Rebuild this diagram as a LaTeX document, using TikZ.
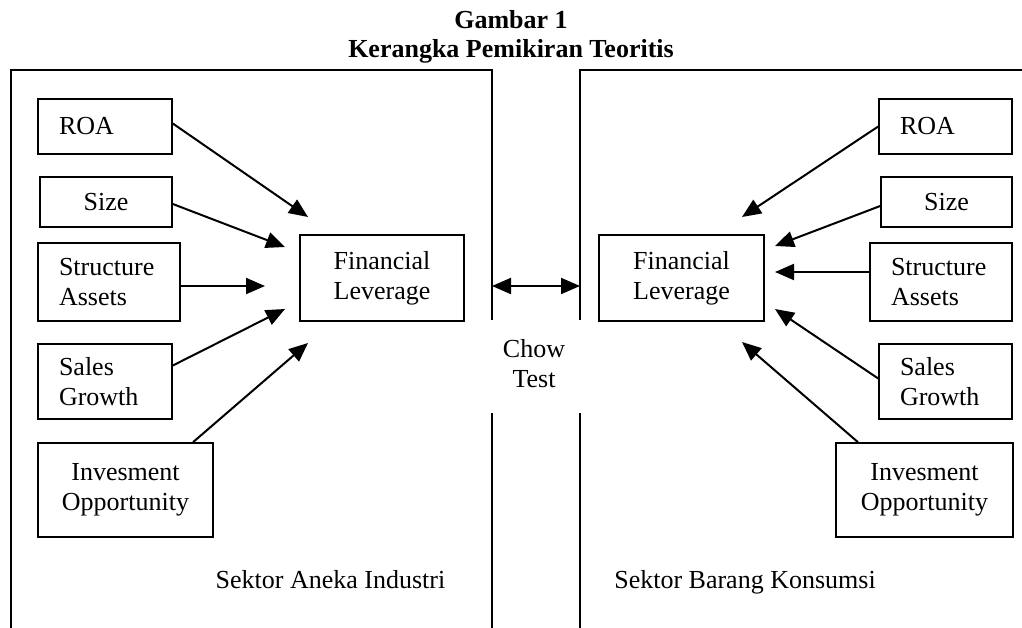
\documentclass[tikz,border=0pt]{standalone}
\usepackage{fontspec}
\setmainfont{Liberation Serif}
\usetikzlibrary{arrows.meta}
\begin{document}
\begin{tikzpicture}[x=1pt,y=-1pt,
  every node/.style={font=\fontsize{26}{30}\selectfont},
  bx/.style={draw, line width=1.6pt, inner ysep=0pt},
  lbox/.style={bx, inner xsep=21pt, align=left},
  cbox/.style={bx, inner xsep=4pt, align=center},
  frame/.style={line width=1.6pt},
  arr/.style={line width=2pt, -{Triangle[length=19pt,width=16pt]}},
  darr/.style={line width=2pt, {Triangle[length=19pt,width=16pt]}-{Triangle[length=19pt,width=16pt]}}]
\useasboundingbox (0,0) rectangle (1022,628);
% title
\node[font=\fontsize{26}{30}\selectfont\bfseries] (t1) at (511,20) {Gambar 1};
\node[font=\fontsize{26}{30}\selectfont\bfseries] (t2) at (511,51) {Kerangka Pemikiran Teoritis};
% frames
\draw[frame] (492,320) -- (492,70) -- (11,70) -- (11,628);
\draw[frame] (492,413) -- (492,628);
\draw[frame] (580,320) -- (580,70) -- (1024,70);
\draw[frame] (580,413) -- (580,628);
% left boxes
\node[lbox, text width=92pt, minimum height=55pt] (L1) at (105,126.5) {ROA};
\node[cbox, text width=124pt, minimum height=50pt] (L2) at (106,202) {Size};
\node[lbox, text width=100pt, minimum height=78pt] (L3) at (109,282) {Structure\\Assets};
\node[lbox, text width=92pt, minimum height=75pt] (L4) at (105,381.5) {Sales\\Growth};
\node[cbox, text width=167pt, minimum height=94pt] (L5) at (125.5,490) {Invesment\\Opportunity};
\node[cbox, text width=156pt, minimum height=86pt] (LF) at (382,278) {Financial\\Leverage};
% right boxes
\node[lbox, text width=91pt, minimum height=55pt] (R1) at (945.5,126.5) {ROA};
\node[cbox, text width=123pt, minimum height=50pt] (R2) at (946.5,202) {Size};
\node[lbox, text width=100pt, minimum height=78pt] (R3) at (941,282) {Structure\\Assets};
\node[lbox, text width=91pt, minimum height=75pt] (R4) at (945.5,381.5) {Sales\\Growth};
\node[cbox, text width=169pt, minimum height=94pt] (R5) at (924.5,490) {Invesment\\Opportunity};
\node[cbox, text width=157pt, minimum height=86pt] (RF) at (681.5,278) {Financial\\Leverage};
% labels
\node[align=center] (chow) at (534,364) {Chow\\Test};
\node[anchor=base] (secL) at (330.5,588) {Sektor Aneka Industri};
\node[anchor=base] (secR) at (745,588) {Sektor Barang Konsumsi};
% arrow tips
\coordinate (tL1) at (308,217);
\coordinate (tL2) at (285,247);
\coordinate (tL3) at (265,286);
\coordinate (tL4) at (285,309);
\coordinate (tL5) at (308,343);
\coordinate (tR1) at (742,217);
\coordinate (tR2) at (775,246);
\coordinate (tR3) at (775,272);
\coordinate (tR4) at (775,309);
\coordinate (tR5) at (742,342);
\coordinate (cA) at (492,286);
\coordinate (cB) at (580,286);
% arrows left
\draw[arr] ([yshift=3pt]L1.east) -- (tL1);
\draw[arr] ([yshift=-2pt]L2.east) -- (tL2);
\draw[arr] (L3.east |- tL3) -- (tL3);
\draw[arr] ([yshift=16pt]L4.east) -- (tL4);
\draw[arr] ([xshift=67.5pt]L5.north) -- (tL5);
% arrows right
\draw[arr] (R1.west) -- (tR1);
\draw[arr] ([yshift=-4pt]R2.west) -- (tR2);
\draw[arr] (R3.west |- tR3) -- (tR3);
\draw[arr] ([yshift=3pt]R4.west) -- (tR4);
\draw[arr] ([xshift=-66.5pt]R5.north) -- (tR5);
% chow arrow
\draw[darr] (cA) -- (cB);
\end{tikzpicture}
\end{document}
